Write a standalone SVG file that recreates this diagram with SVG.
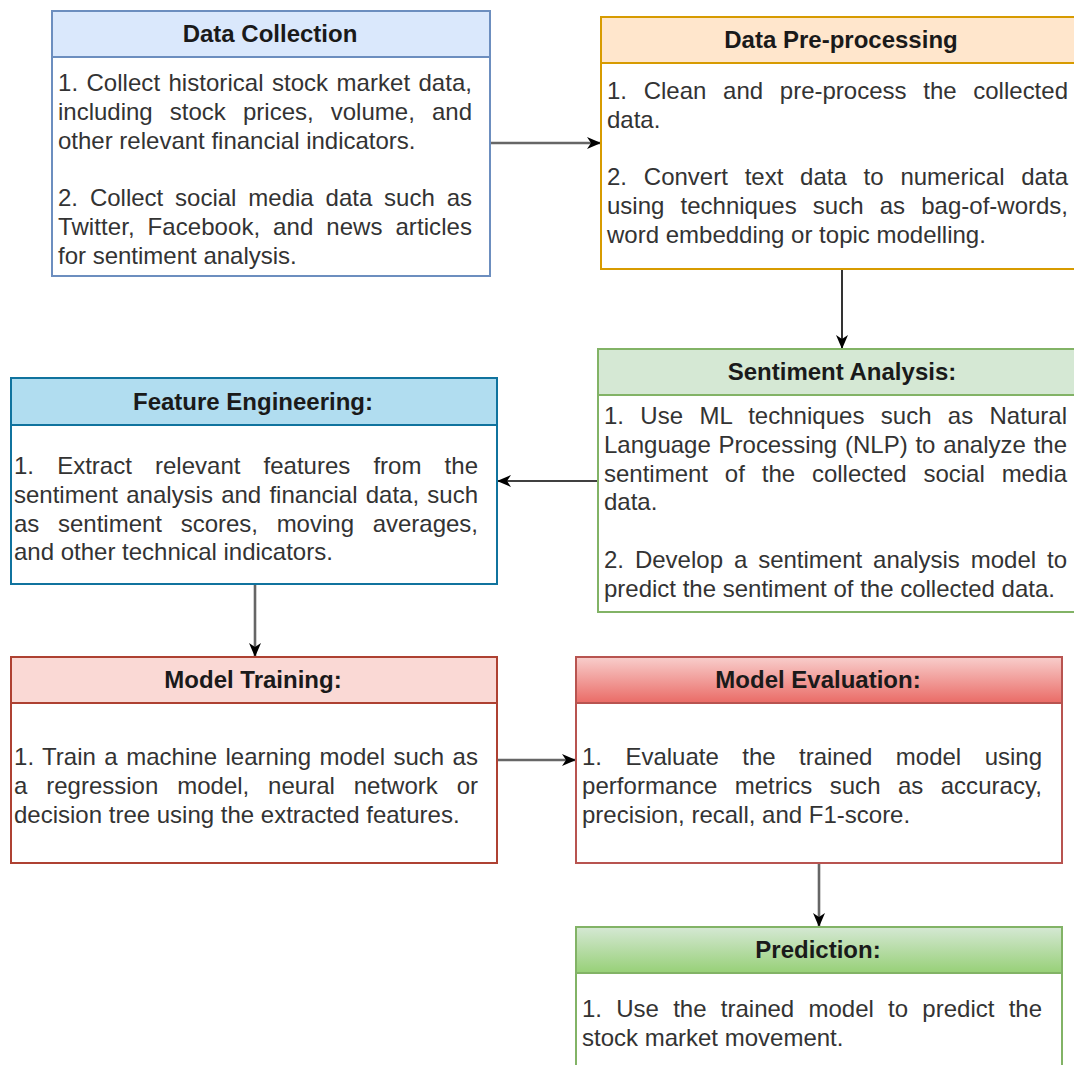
<svg xmlns="http://www.w3.org/2000/svg" width="1074" height="1065" viewBox="0 0 1074 1065">
<style>
.t{font-family:"Liberation Sans",Arial,sans-serif;font-size:24px;font-weight:bold;fill:#1a1a1a;text-anchor:middle}
.b{font-family:"Liberation Sans",Arial,sans-serif;font-size:24px;fill:#333}
.box{fill:#fff;stroke-width:2}
.c1{fill:none;stroke:#000;stroke-width:1.6}
.c2{fill:none;stroke:#666;stroke-width:2.6}
</style>
<defs>
<marker id="ah" markerWidth="14" markerHeight="12" refX="13" refY="6" orient="auto" markerUnits="userSpaceOnUse">
<path d="M0,0 L14,6 L0,12 L4,6 z" fill="#000"/>
</marker>
<linearGradient id="gME" x1="0" y1="0" x2="0" y2="1"><stop offset="0" stop-color="#f8cecc"/><stop offset="1" stop-color="#ea6b66"/></linearGradient>
<linearGradient id="gPR" x1="0" y1="0" x2="0" y2="1"><stop offset="0" stop-color="#d5e8d4"/><stop offset="1" stop-color="#97d077"/></linearGradient>
</defs>
<rect width="1074" height="1065" fill="#fff"/>

<g id="connectors">
<line class="c2" x1="490" y1="143" x2="600" y2="143" marker-end="url(#ah)"/>
<line class="c1" x1="842" y1="269" x2="842" y2="348" marker-end="url(#ah)"/>
<line class="c1" x1="598" y1="481" x2="498" y2="481" marker-end="url(#ah)"/>
<line class="c2" x1="255" y1="584" x2="255" y2="656" marker-end="url(#ah)"/>
<line class="c2" x1="497" y1="760" x2="575" y2="760" marker-end="url(#ah)"/>
<line class="c2" x1="819" y1="863" x2="819" y2="926" marker-end="url(#ah)"/>
</g>

<g id="data-collection">
<rect class="box" x="52" y="11" width="438" height="265" stroke="#6c8ebf"/>
<rect x="52" y="11" width="438" height="46" fill="#dae8fc" stroke="#6c8ebf" stroke-width="2"/>
<text class="t" x="270" y="42">Data Collection</text>
<text class="b" x="58" y="91" word-spacing="1.65" textLength="414" lengthAdjust="spacing">1. Collect historical stock market data,</text>
<text class="b" x="58" y="119.8" word-spacing="10.5" textLength="414" lengthAdjust="spacing">including stock prices, volume, and</text>
<text class="b" x="58" y="148.6">other relevant financial indicators.</text>
<text class="b" x="58" y="206.2" word-spacing="5.2" textLength="414" lengthAdjust="spacing">2. Collect social media data such as</text>
<text class="b" x="58" y="235" word-spacing="6.1" textLength="414" lengthAdjust="spacing">Twitter, Facebook, and news articles</text>
<text class="b" x="58" y="263.8">for sentiment analysis.</text>
</g>

<g id="data-preprocessing">
<rect class="box" x="601" y="17" width="486" height="252" stroke="#d79b00"/>
<rect x="601" y="17" width="486" height="46" fill="#ffe6cc" stroke="#d79b00" stroke-width="2"/>
<text class="t" x="841" y="48">Data Pre-processing</text>
<text class="b" x="607" y="99" word-spacing="10" textLength="461" lengthAdjust="spacing">1. Clean and pre-process the collected</text>
<text class="b" x="607" y="127.8">data.</text>
<text class="b" x="607" y="185.4" word-spacing="10.1" textLength="461" lengthAdjust="spacing">2. Convert text data to numerical data</text>
<text class="b" x="607" y="214.2" word-spacing="9.5" textLength="461" lengthAdjust="spacing">using techniques such as bag-of-words,</text>
<text class="b" x="607" y="243">word embedding or topic modelling.</text>
</g>

<g id="sentiment-analysis">
<rect class="box" x="598" y="349" width="488" height="263" stroke="#82b366"/>
<rect x="598" y="349" width="488" height="46" fill="#d5e8d4" stroke="#82b366" stroke-width="2"/>
<text class="t" x="842" y="380">Sentiment Analysis:</text>
<text class="b" x="604" y="424" word-spacing="9.6" textLength="463" lengthAdjust="spacing">1. Use ML techniques such as Natural</text>
<text class="b" x="604" y="452.8" word-spacing="1.1" textLength="463" lengthAdjust="spacing">Language Processing (NLP) to analyze the</text>
<text class="b" x="604" y="481.6" word-spacing="10.2" textLength="463" lengthAdjust="spacing">sentiment of the collected social media</text>
<text class="b" x="604" y="510.4">data.</text>
<text class="b" x="604" y="568" word-spacing="4.25" textLength="463" lengthAdjust="spacing">2. Develop a sentiment analysis model to</text>
<text class="b" x="604" y="596.8">predict the sentiment of the collected data.</text>
</g>

<g id="feature-engineering">
<rect class="box" x="11" y="378" width="486" height="206" stroke="#10739e"/>
<rect x="11" y="378" width="486" height="47" fill="#b1ddf0" stroke="#10739e" stroke-width="2"/>
<text class="t" x="253" y="410">Feature Engineering:</text>
<text class="b" x="14" y="474" word-spacing="16.5" textLength="464" lengthAdjust="spacing">1. Extract relevant features from the</text>
<text class="b" x="14" y="502.8" word-spacing="1.56" textLength="464" lengthAdjust="spacing">sentiment analysis and financial data, such</text>
<text class="b" x="14" y="531.6" word-spacing="12" textLength="464" lengthAdjust="spacing">as sentiment scores, moving averages,</text>
<text class="b" x="14" y="560.4">and other technical indicators.</text>
</g>

<g id="model-training">
<rect class="box" x="11" y="657" width="486" height="206" stroke="#ae4132"/>
<rect x="11" y="657" width="486" height="46" fill="#fad9d5" stroke="#ae4132" stroke-width="2"/>
<text class="t" x="253" y="688">Model Training:</text>
<text class="b" x="14" y="765" word-spacing="1.7" textLength="464" lengthAdjust="spacing">1. Train a machine learning model such as</text>
<text class="b" x="14" y="793.8" word-spacing="12.2" textLength="464" lengthAdjust="spacing">a regression model, neural network or</text>
<text class="b" x="14" y="822.6">decision tree using the extracted features.</text>
</g>

<g id="model-evaluation">
<rect class="box" x="576" y="657" width="486" height="206" stroke="#b85450"/>
<rect x="576" y="657" width="486" height="46" fill="url(#gME)" stroke="#b85450" stroke-width="2"/>
<text class="t" x="818" y="688">Model Evaluation:</text>
<text class="b" x="582" y="765" word-spacing="16.8" textLength="460" lengthAdjust="spacing">1. Evaluate the trained model using</text>
<text class="b" x="582" y="793.8" word-spacing="10.6" textLength="460" lengthAdjust="spacing">performance metrics such as accuracy,</text>
<text class="b" x="582" y="822.6">precision, recall, and F1-score.</text>
</g>

<g id="prediction">
<rect class="box" x="576" y="927" width="486" height="160" stroke="#82b366"/>
<rect x="576" y="927" width="486" height="46" fill="url(#gPR)" stroke="#82b366" stroke-width="2"/>
<text class="t" x="818" y="958">Prediction:</text>
<text class="b" x="582" y="1017" word-spacing="7.6" textLength="460" lengthAdjust="spacing">1. Use the trained model to predict the</text>
<text class="b" x="582" y="1045.8">stock market movement.</text>
</g>
</svg>
